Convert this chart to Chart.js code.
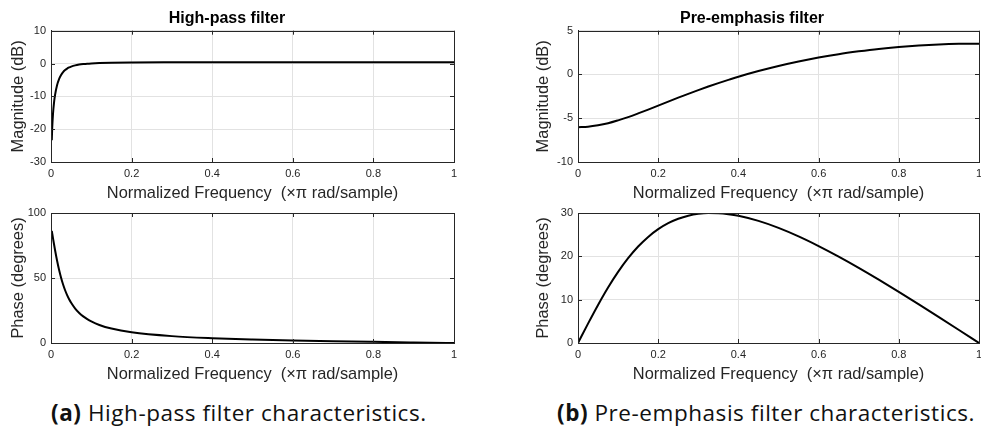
<!DOCTYPE html>
<html>
<head>
<meta charset="utf-8">
<title>Filter characteristics</title>
<script src="https://cdn.jsdelivr.net/npm/chart.js@4/dist/chart.umd.min.js"></script>
<style>
  html, body { margin: 0; padding: 0; overflow: hidden; background: #fff; }
  #page { position: relative; width: 981px; height: 429px; overflow: hidden; }
  canvas { position: absolute; }
  .caption { position: absolute; top: 397px; font-family: "Open Sans", "DejaVu Sans", sans-serif; font-size: 22.5px; letter-spacing: 0.55px; color: #111; white-space: nowrap; }
  .caption b { font-weight: 700; }
</style>
</head>
<body>
<div id="page">
<canvas id="hpMag" width="505" height="204" style="left:0;top:0"></canvas>
<canvas id="peMag" width="507" height="204" style="left:525px;top:0"></canvas>
<canvas id="hpPhase" width="505" height="185" style="left:0;top:200px"></canvas>
<canvas id="pePhase" width="507" height="185" style="left:525px;top:200px"></canvas>
<div class="caption" style="left:51px"><b>(a)</b> High-pass filter characteristics.</div>
<div class="caption" style="left:557px"><b>(b)</b> Pre-emphasis filter characteristics.</div>
</div>

<script>
// high-pass (DC blocking) filter response, x in units of pi rad/sample
const hpFreq = [0.00195, 0.003, 0.005, 0.0075, 0.01, 0.015, 0.02, 0.025, 0.03, 0.035, 0.04, 0.045, 0.05, 0.06, 0.07, 0.08, 0.09, 0.1, 0.12, 0.15, 0.2, 0.3, 0.4, 0.5, 0.6, 0.7, 0.8, 0.9, 1];
const hpMagDb = [-23.35, -19.64, -15.28, -11.9, -9.6, -6.59, -4.72, -3.47, -2.61, -1.99, -1.53, -1.19, -0.93, -0.56, -0.33, -0.17, -0.05, 0.03, 0.14, 0.24, 0.31, 0.36, 0.38, 0.39, 0.395, 0.397, 0.399, 0.4, 0.4];
const hpPhaseDeg = [86.27, 84.29, 80.54, 75.96, 71.56, 63.43, 56.3, 50.18, 44.98, 40.57, 36.83, 33.64, 30.92, 26.5, 23.12, 20.45, 18.32, 16.57, 13.87, 11.1, 8.25, 5.29, 3.71, 2.7, 1.96, 1.37, 0.88, 0.43, 0];

// pre-emphasis filter response
const peFreq = [0, 0.025, 0.05, 0.075, 0.1, 0.125, 0.15, 0.175, 0.2, 0.225, 0.25, 0.275, 0.3, 0.325, 0.35, 0.375, 0.4, 0.45, 0.5, 0.55, 0.6, 0.65, 0.7, 0.75, 0.8, 0.85, 0.9, 0.95, 1];
const peMagDb = [-6.02, -5.97, -5.81, -5.57, -5.24, -4.87, -4.45, -4.01, -3.56, -3.1, -2.65, -2.21, -1.79, -1.38, -0.99, -0.62, -0.26, 0.39, 0.97, 1.48, 1.93, 2.32, 2.64, 2.92, 3.14, 3.31, 3.43, 3.5, 3.52];
const pePhaseDeg = [0, 4.47, 8.78, 12.8, 16.41, 19.57, 22.26, 24.48, 26.27, 27.65, 28.67, 29.38, 29.81, 29.99, 29.95, 29.73, 29.36, 28.18, 26.57, 24.61, 22.38, 19.95, 17.36, 14.64, 11.82, 8.92, 5.98, 3.0, 0];

const freqTicks = [0, 0.2, 0.4, 0.6, 0.8, 1];
const xLabel = 'Normalized Frequency  (\u00d7\u03c0 rad/sample)';

const axisColor = '#262626';
const gridColor = '#e2e2e2';
const fontFamily = '"Liberation Sans", Arial, Helvetica, sans-serif';

// matlab style box with inward tick marks on all four sides
const boxPlugin = {
    id: 'matlabBox',
    afterDatasetsDraw(chart) {
        const ctx = chart.ctx;
        const a = chart.chartArea;
        const len = 4;
        ctx.save();
        ctx.strokeStyle = axisColor;
        ctx.lineWidth = 1;
        ctx.beginPath();
        chart.scales.x.ticks.forEach(t => {
            const px = Math.round(chart.scales.x.getPixelForValue(t.value)) + 0.5;
            ctx.moveTo(px, a.bottom); ctx.lineTo(px, a.bottom - len);
            ctx.moveTo(px, a.top); ctx.lineTo(px, a.top + len);
        });
        chart.scales.y.ticks.forEach(t => {
            const py = Math.round(chart.scales.y.getPixelForValue(t.value)) + 0.5;
            ctx.moveTo(a.left, py); ctx.lineTo(a.left + len, py);
            ctx.moveTo(a.right, py); ctx.lineTo(a.right - len, py);
        });
        ctx.stroke();
        ctx.strokeRect(Math.round(a.left) + 0.5, Math.round(a.top) + 0.5, Math.round(a.right - a.left), Math.round(a.bottom - a.top));
        ctx.restore();
    }
};

function createFilterChart(id, xs, ys, opts) {
    const points = xs.map((x, i) => ({x: x, y: ys[i]}));
    const config = {
        type: 'line',
        data: {
            datasets: [{
                data: points,
                borderColor: '#000',
                borderWidth: 2,
                pointRadius: 0,
                cubicInterpolationMode: 'monotone',
                fill: false
            }]
        },
        options: {
            responsive: false,
            animation: false,
            events: [],
            layout: { padding: { top: opts.padTop, right: opts.padRight, bottom: 0, left: 0 } },
            plugins: {
                legend: { display: false },
                tooltip: { enabled: false },
                title: {
                    display: !!opts.title,
                    text: opts.title,
                    color: '#000',
                    font: { family: fontFamily, size: 16, weight: 'bold', lineHeight: 1.2 },
                    padding: { top: 9, bottom: 2.5 }
                }
            },
            scales: {
                x: {
                    type: 'linear',
                    min: 0,
                    max: 1,
                    afterBuildTicks: s => { s.ticks = freqTicks.map(v => ({value: v})); },
                    afterFit: s => { s.height = 42; },
                    grid: { color: gridColor, drawTicks: false },
                    border: { color: axisColor, width: 1 },
                    ticks: { color: axisColor, padding: 5, maxRotation: 0, font: { family: fontFamily, size: 11 },
                             callback: v => String(v) },
                    title: { display: true, text: xLabel, color: axisColor, padding: { top: 0, bottom: 0.5 },
                             font: { family: fontFamily, size: 16.4, lineHeight: 1.2 } }
                },
                y: {
                    type: 'linear',
                    min: opts.yMin,
                    max: opts.yMax,
                    afterBuildTicks: s => { s.ticks = opts.yTicks.map(v => ({value: v})); },
                    afterFit: s => { s.width = opts.yWidth; },
                    grid: { color: gridColor, drawTicks: false },
                    border: { color: axisColor, width: 1 },
                    ticks: { color: axisColor, padding: 5, font: { family: fontFamily, size: 11 },
                             callback: v => String(v) },
                    title: { display: true, text: opts.yLabel, color: axisColor, padding: { top: 8.5, bottom: 0 },
                             font: { family: fontFamily, size: 16.4, lineHeight: 1.2 } }
                }
            }
        },
        plugins: [boxPlugin]
    };
    return new Chart(document.getElementById(id), config);
}

createFilterChart('hpMag', hpFreq, hpMagDb, {
    title: 'High-pass filter', yLabel: 'Magnitude (dB)',
    yMin: -30, yMax: 10, yTicks: [-30, -20, -10, 0, 10],
    yWidth: 51, padTop: 0, padRight: 51
});
createFilterChart('peMag', peFreq, peMagDb, {
    title: 'Pre-emphasis filter', yLabel: 'Magnitude (dB)',
    yMin: -10, yMax: 5, yTicks: [-10, -5, 0, 5],
    yWidth: 53, padTop: 0, padRight: 53
});
createFilterChart('hpPhase', hpFreq, hpPhaseDeg, {
    title: '', yLabel: 'Phase (degrees)',
    yMin: 0, yMax: 100, yTicks: [0, 50, 100],
    yWidth: 51, padTop: 13, padRight: 51
});
createFilterChart('pePhase', peFreq, pePhaseDeg, {
    title: '', yLabel: 'Phase (degrees)',
    yMin: 0, yMax: 30, yTicks: [0, 10, 20, 30],
    yWidth: 53, padTop: 13, padRight: 53
});
</script>
</body>
</html>
